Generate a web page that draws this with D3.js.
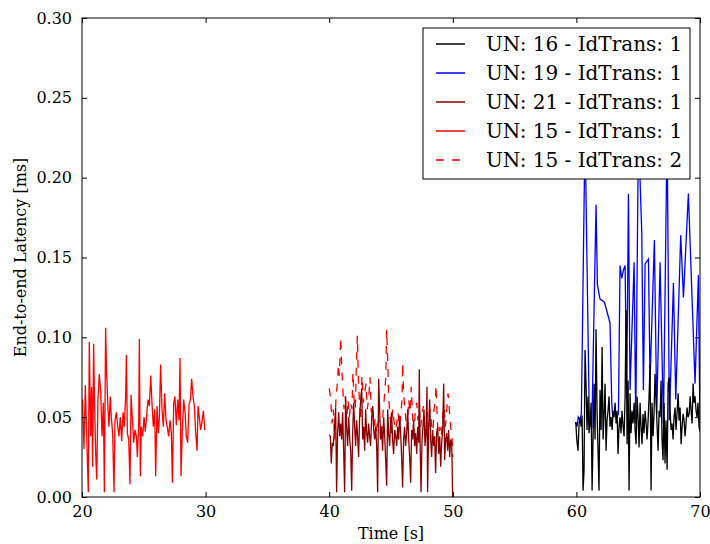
<!DOCTYPE html>
<html>
<head>
<meta charset="utf-8">
<script src="https://cdn.jsdelivr.net/npm/d3@7"></script>
<style>
  body { margin: 0; background: #fff; }
  svg { font-family: "DejaVu Serif", serif; }
</style>
</head>
<body>
<div id="chart"></div>
<script>
// chart size and plot frame
const width = 710;
const height = 544;
const margin = {left: 82, right: 10, top: 18, bottom: 47};

// axis ticks
const xTicks = [20, 30, 40, 50, 60, 70];
const yTicks = [0.00, 0.05, 0.10, 0.15, 0.20, 0.25, 0.30];

// series names, in legend order
const seriesNames = [
  "UN: 16 - IdTrans: 1",
  "UN: 19 - IdTrans: 1",
  "UN: 21 - IdTrans: 1",
  "UN: 15 - IdTrans: 1",
  "UN: 15 - IdTrans: 2"
];

// [time s, latency ms]
const un15id1 = [
  [20.05,0.061],[20.16,0.030],[20.27,0.070],[20.38,0.038],[20.51,0.003],[20.59,0.097],[20.70,0.038],[20.78,0.069],
  [20.86,0.019],[20.94,0.096],[21.02,0.057],[21.11,0.027],[21.19,0.011],[21.29,0.061],[21.40,0.077],[21.51,0.066],
  [21.62,0.038],[21.73,0.059],[21.81,0.003],[21.91,0.106],[21.99,0.078],[22.10,0.056],[22.18,0.044],[22.29,0.063],
  [22.37,0.050],[22.48,0.040],[22.59,0.003],[22.67,0.048],[22.78,0.053],[22.89,0.044],[22.99,0.038],[23.10,0.050],
  [23.21,0.035],[23.32,0.053],[23.42,0.044],[23.53,0.063],[23.59,0.089],[23.67,0.040],[23.78,0.036],[23.88,0.008],
  [23.97,0.064],[24.07,0.050],[24.18,0.034],[24.29,0.042],[24.40,0.038],[24.48,0.025],[24.59,0.047],[24.64,0.099],
  [24.72,0.013],[24.80,0.044],[24.91,0.038],[25.02,0.050],[25.12,0.041],[25.23,0.051],[25.34,0.061],[25.45,0.057],
  [25.56,0.076],[25.66,0.059],[25.77,0.044],[25.88,0.055],[25.96,0.013],[26.07,0.057],[26.18,0.040],[26.26,0.050],
  [26.36,0.083],[26.47,0.055],[26.58,0.044],[26.69,0.065],[26.80,0.048],[26.90,0.044],[27.01,0.038],[27.12,0.048],
  [27.23,0.040],[27.31,0.009],[27.42,0.059],[27.52,0.063],[27.63,0.045],[27.74,0.061],[27.85,0.048],[27.93,0.087],
  [28.01,0.013],[28.12,0.043],[28.23,0.061],[28.34,0.053],[28.44,0.038],[28.55,0.034],[28.66,0.058],[28.77,0.061],
  [28.87,0.074],[28.98,0.063],[29.09,0.057],[29.20,0.040],[29.31,0.029],[29.39,0.057],[29.49,0.050],[29.60,0.042],
  [29.71,0.047],[29.82,0.054],[29.93,0.042]
];

const un15id2 = [
  [40.01,0.068],[40.12,0.061],[40.23,0.046],[40.33,0.055],[40.44,0.036],[40.55,0.063],[40.66,0.071],[40.74,0.083],
  [40.82,0.076],[40.93,0.100],[41.01,0.082],[41.09,0.069],[41.20,0.055],[41.30,0.063],[41.41,0.048],[41.52,0.061],
  [41.63,0.050],[41.74,0.059],[41.84,0.055],[41.92,0.078],[42.01,0.061],[42.11,0.055],[42.19,0.080],[42.28,0.101],
  [42.36,0.074],[42.44,0.061],[42.55,0.048],[42.65,0.076],[42.76,0.059],[42.87,0.065],[42.98,0.071],[43.08,0.055],
  [43.19,0.061],[43.30,0.075],[43.41,0.053],[43.52,0.057],[43.62,0.044],[43.73,0.050],[43.84,0.040],[43.95,0.046],
  [44.06,0.048],[44.16,0.036],[44.27,0.044],[44.38,0.055],[44.49,0.065],[44.57,0.074],[44.65,0.105],[44.73,0.086],
  [44.81,0.063],[44.92,0.050],[45.03,0.040],[45.13,0.055],[45.24,0.048],[45.35,0.042],[45.46,0.046],[45.57,0.053],
  [45.67,0.044],[45.78,0.050],[45.89,0.061],[45.94,0.084],[46.02,0.065],[46.10,0.057],[46.21,0.048],[46.32,0.042],
  [46.43,0.061],[46.54,0.053],[46.64,0.069],[46.75,0.050],[46.86,0.040],[46.97,0.055],[47.08,0.059],[47.18,0.048],
  [47.29,0.055],[47.40,0.044],[47.51,0.050],[47.62,0.057],[47.72,0.046],[47.83,0.040],[47.94,0.053],[48.05,0.044],
  [48.15,0.055],[48.26,0.048],[48.37,0.036],[48.48,0.055],[48.59,0.061],[48.64,0.070],[48.75,0.048],[48.86,0.034],
  [48.96,0.044],[49.07,0.038],[49.18,0.050],[49.29,0.057],[49.40,0.044],[49.50,0.053],[49.61,0.065],[49.72,0.055],
  [49.83,0.044],[49.94,0.037],[49.99,0.025]
];

const un21id1 = [
  [40.01,0.039],[40.09,0.038],[40.17,0.021],[40.25,0.034],[40.33,0.032],[40.44,0.044],[40.52,0.056],[40.60,0.003],
  [40.68,0.040],[40.77,0.053],[40.85,0.038],[40.93,0.046],[41.01,0.036],[41.09,0.053],[41.17,0.029],[41.25,0.003],
  [41.33,0.063],[41.41,0.044],[41.49,0.032],[41.58,0.050],[41.66,0.036],[41.74,0.029],[41.82,0.004],[41.90,0.040],
  [41.98,0.059],[42.06,0.044],[42.14,0.032],[42.22,0.048],[42.30,0.038],[42.38,0.025],[42.46,0.050],[42.55,0.061],
  [42.63,0.068],[42.71,0.036],[42.79,0.044],[42.87,0.029],[42.95,0.055],[43.03,0.040],[43.11,0.034],[43.19,0.046],
  [43.27,0.038],[43.35,0.032],[43.44,0.050],[43.52,0.057],[43.60,0.042],[43.68,0.036],[43.76,0.044],[43.84,0.032],
  [43.92,0.003],[44.00,0.074],[44.08,0.055],[44.16,0.036],[44.24,0.044],[44.32,0.029],[44.41,0.050],[44.49,0.038],
  [44.57,0.023],[44.65,0.007],[44.73,0.055],[44.81,0.040],[44.89,0.032],[44.97,0.046],[45.05,0.053],[45.13,0.036],
  [45.21,0.027],[45.30,0.042],[45.38,0.038],[45.46,0.032],[45.54,0.044],[45.62,0.036],[45.70,0.051],[45.78,0.040],
  [45.86,0.025],[45.94,0.006],[46.02,0.036],[46.10,0.044],[46.18,0.032],[46.27,0.040],[46.35,0.055],[46.43,0.036],
  [46.51,0.025],[46.59,0.009],[46.67,0.042],[46.75,0.036],[46.83,0.048],[46.91,0.032],[46.99,0.040],[47.08,0.027],
  [47.16,0.044],[47.24,0.034],[47.29,0.080],[47.34,0.040],[47.43,0.003],[47.51,0.036],[47.59,0.044],[47.67,0.055],
  [47.75,0.032],[47.83,0.040],[47.91,0.069],[47.96,0.003],[48.05,0.044],[48.13,0.061],[48.21,0.036],[48.29,0.025],
  [48.37,0.042],[48.45,0.032],[48.53,0.038],[48.61,0.015],[48.69,0.040],[48.78,0.044],[48.86,0.027],[48.94,0.038],
  [49.02,0.019],[49.10,0.034],[49.18,0.042],[49.26,0.071],[49.34,0.023],[49.42,0.036],[49.50,0.040],[49.58,0.029],
  [49.66,0.042],[49.75,0.025],[49.83,0.036],[49.91,0.034],[49.99,0.000]
];

const un16id1 = [
  [59.95,0.047],[60.03,0.036],[60.13,0.029],[60.22,0.046],[60.30,0.050],[60.38,0.044],[60.46,0.051],[60.54,0.004],
  [60.62,0.017],[60.70,0.092],[60.78,0.071],[60.86,0.042],[60.94,0.063],[61.02,0.040],[61.11,0.046],[61.19,0.059],
  [61.27,0.004],[61.35,0.038],[61.43,0.071],[61.51,0.036],[61.59,0.105],[61.67,0.054],[61.75,0.029],[61.83,0.004],
  [61.91,0.067],[62.00,0.042],[62.08,0.094],[62.16,0.036],[62.24,0.052],[62.32,0.071],[62.40,0.029],[62.48,0.048],
  [62.56,0.054],[62.64,0.063],[62.72,0.044],[62.80,0.050],[62.89,0.042],[62.97,0.054],[63.05,0.050],[63.13,0.059],
  [63.21,0.046],[63.29,0.054],[63.37,0.027],[63.45,0.044],[63.53,0.050],[63.61,0.040],[63.69,0.054],[63.78,0.044],
  [63.86,0.038],[63.94,0.063],[64.02,0.117],[64.10,0.033],[64.18,0.073],[64.26,0.004],[64.34,0.065],[64.42,0.040],
  [64.50,0.054],[64.58,0.046],[64.67,0.059],[64.75,0.042],[64.83,0.033],[64.91,0.063],[64.99,0.050],[65.07,0.031],
  [65.15,0.059],[65.23,0.044],[65.31,0.033],[65.39,0.052],[65.47,0.040],[65.56,0.054],[65.64,0.046],[65.72,0.036],
  [65.80,0.048],[65.88,0.063],[65.96,0.083],[66.04,0.004],[66.12,0.059],[66.20,0.038],[66.28,0.052],[66.36,0.077],
  [66.45,0.059],[66.53,0.044],[66.61,0.029],[66.69,0.054],[66.77,0.050],[66.85,0.073],[66.93,0.036],[67.01,0.023],
  [67.09,0.059],[67.17,0.021],[67.25,0.048],[67.34,0.017],[67.42,0.071],[67.50,0.075],[67.58,0.054],[67.66,0.042],
  [67.74,0.046],[67.82,0.036],[67.90,0.050],[67.98,0.056],[68.06,0.042],[68.14,0.052],[68.23,0.065],[68.31,0.048],
  [68.39,0.056],[68.47,0.033],[68.55,0.044],[68.63,0.052],[68.71,0.048],[68.79,0.038],[68.87,0.046],[68.95,0.056],
  [69.03,0.050],[69.12,0.052],[69.20,0.063],[69.28,0.054],[69.36,0.046],[69.44,0.071],[69.52,0.059],[69.60,0.063],
  [69.68,0.054],[69.76,0.050],[69.84,0.059],[69.92,0.044],[70.00,0.041]
];

const un19id1 = [
  [59.95,0.047],[60.05,0.044],[60.15,0.050],[60.28,0.048],[60.40,0.052],[60.70,0.230],[61.05,0.046],[61.25,0.044],
  [61.59,0.183],[61.70,0.133],[61.91,0.124],[62.27,0.122],[62.72,0.109],[62.86,0.059],[62.94,0.050],[63.13,0.054],
  [63.26,0.050],[63.40,0.052],[63.53,0.145],[63.67,0.137],[63.80,0.142],[63.94,0.145],[64.07,0.063],[64.21,0.190],
  [64.34,0.067],[64.67,0.147],[64.80,0.046],[65.02,0.230],[65.29,0.165],[65.42,0.067],[65.56,0.146],[65.83,0.149],
  [65.96,0.073],[66.31,0.161],[66.50,0.052],[66.77,0.147],[67.04,0.046],[67.34,0.230],[67.52,0.048],[67.85,0.134],
  [68.04,0.061],[68.44,0.164],[68.66,0.125],[69.06,0.190],[69.60,0.071],[69.87,0.139],[70.00,0.044]
];

// line style for each series, in legend order
const seriesColors = ["#000000", "#0000ff", "#8b0000", "#ff0000", "#ff0000"];
const seriesDash = [null, null, null, null, "8,8"];
const seriesData = [un16id1, un19id1, un21id1, un15id1, un15id2];
// draw order so the overlaps look like the picture
const drawOrder = [1, 0, 4, 2, 3];

const svg = d3.select("#chart")
  .append("svg")
  .attr("width", width)
  .attr("height", height);

const x = d3.scaleLinear()
  .domain([20, 70])
  .range([margin.left, width - margin.right]);

const y = d3.scaleLinear()
  .domain([0, 0.30])
  .range([height - margin.bottom, margin.top]);

svg.append("clipPath")
  .attr("id", "plot-clip")
  .append("rect")
  .attr("x", margin.left)
  .attr("y", margin.top)
  .attr("width", width - margin.left - margin.right)
  .attr("height", height - margin.top - margin.bottom);

const line = d3.line()
  .x(d => x(d[0]))
  .y(d => y(d[1]));

// data lines
const plot = svg.append("g").attr("clip-path", "url(#plot-clip)");
drawOrder.forEach(i => {
  plot.append("path")
    .datum(seriesData[i])
    .attr("fill", "none")
    .attr("stroke", seriesColors[i])
    .attr("stroke-width", 1.3)
    .attr("stroke-dasharray", seriesDash[i])
    .attr("d", line);
});

// axes, ticks pointing inside
const tickLen = 5;
const fmtY = d3.format(".2f");

const gx = svg.append("g")
  .attr("transform", `translate(0,${height - margin.bottom})`)
  .call(d3.axisBottom(x).tickValues(xTicks).tickSize(-tickLen).tickPadding(9));
const gy = svg.append("g")
  .attr("transform", `translate(${margin.left},0)`)
  .call(d3.axisLeft(y).tickValues(yTicks).tickFormat(fmtY).tickSize(-tickLen).tickPadding(10));
const gt = svg.append("g")
  .attr("transform", `translate(0,${margin.top})`)
  .call(d3.axisTop(x).tickValues(xTicks).tickSize(-tickLen).tickFormat(""));
const gr = svg.append("g")
  .attr("transform", `translate(${width - margin.right},0)`)
  .call(d3.axisRight(y).tickValues(yTicks).tickSize(-tickLen).tickFormat(""));

[gx, gy, gt, gr].forEach(g => {
  g.select(".domain").remove();
  g.selectAll("text")
    .attr("font-family", "DejaVu Serif")
    .attr("font-size", "16px")
    .attr("fill", "#000");
  g.selectAll("line").attr("stroke", "#000");
});

// frame
svg.append("rect")
  .attr("x", margin.left)
  .attr("y", margin.top)
  .attr("width", width - margin.left - margin.right)
  .attr("height", height - margin.top - margin.bottom)
  .attr("fill", "none")
  .attr("stroke", "#000")
  .attr("stroke-width", 1);

// axis titles
svg.append("text")
  .attr("x", (margin.left + width - margin.right) / 2)
  .attr("y", 539)
  .attr("text-anchor", "middle")
  .attr("font-size", "16px")
  .text("Time [s]");

svg.append("text")
  .attr("transform", `translate(26,${(margin.top + height - margin.bottom) / 2}) rotate(-90)`)
  .attr("text-anchor", "middle")
  .attr("font-size", "16px")
  .text("End-to-end Latency [ms]");

// legend
const legend = svg.append("g");
legend.append("rect")
  .attr("x", 423)
  .attr("y", 28)
  .attr("width", 267)
  .attr("height", 151)
  .attr("fill", "#fff")
  .attr("stroke", "#000")
  .attr("stroke-width", 1);

const rowY = d3.scaleLinear().domain([0, 4]).range([44, 160]);
seriesNames.forEach((name, i) => {
  legend.append("line")
    .attr("x1", 436)
    .attr("x2", 465)
    .attr("y1", rowY(i))
    .attr("y2", rowY(i))
    .attr("stroke", seriesColors[i])
    .attr("stroke-width", 1.5)
    .attr("stroke-dasharray", seriesDash[i]);
  legend.append("text")
    .attr("x", 486)
    .attr("y", rowY(i))
    .attr("dy", "0.36em")
    .attr("font-size", "20px")
    .text(name);
});
</script>
</body>
</html>
